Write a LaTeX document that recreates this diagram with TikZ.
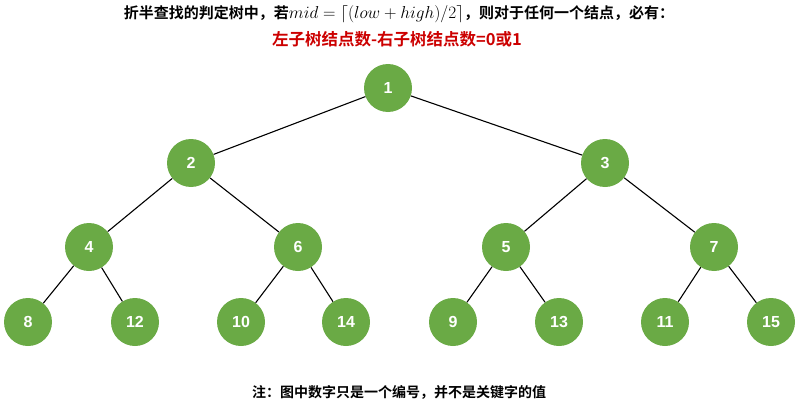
\documentclass[tikz,border=0pt]{standalone}
\usepackage{fontspec}
\usepackage{amsmath}
\newfontfamily\cjk{Noto Sans CJK SC}[BoldFont={Noto Sans CJK SC Bold}]
\newfontfamily\lsans{Liberation Sans}
\definecolor{gr}{HTML}{6AAA45}
\definecolor{rd}{HTML}{CC0000}
\begin{document}
\begin{tikzpicture}[x=1pt,y=-1pt,
  nd/.style={circle,fill=gr,minimum size=48pt,inner sep=0pt,text=white,font=\lsans\bfseries\fontsize{16}{16}\selectfont},
  ed/.style={black,line width=1.1pt}]
\useasboundingbox (0,0) rectangle (800,404);
\node[font=\cjk\bfseries\fontsize{15}{17}\selectfont] (t1) at (399,14) {折半查找的判定树中，若{\fontsize{19}{19}\selectfont$mid=\lceil(low+high)/2\rceil$}，则对于任何一个结点，必有：};
\node[font=\cjk\bfseries\fontsize{16.5}{18}\selectfont,text=rd] (t2) at (397,39) {左子树结点数-右子树结点数=0或1};
\node[font=\cjk\bfseries\fontsize{14}{16}\selectfont] (t3) at (399,392) {注：图中数字只是一个编号，并不是关键字的值};
\foreach \n/\x/\y in {1/388/88,2/191/163,3/605/163,4/89/247,6/298/247,5/506/247,7/714/247,
  8/28/322,12/135/322,10/241/322,14/346/322,9/453/322,13/559/322,11/665/322,15/771/322}
  \node[nd] (n\n) at (\x,\y) {\n};
\foreach \a/\b in {1/2,1/3,2/4,2/6,3/5,3/7,4/8,4/12,6/10,6/14,5/9,5/13,7/11,7/15}
  \draw[ed] (n\a) -- (n\b);
\end{tikzpicture}
\end{document}
